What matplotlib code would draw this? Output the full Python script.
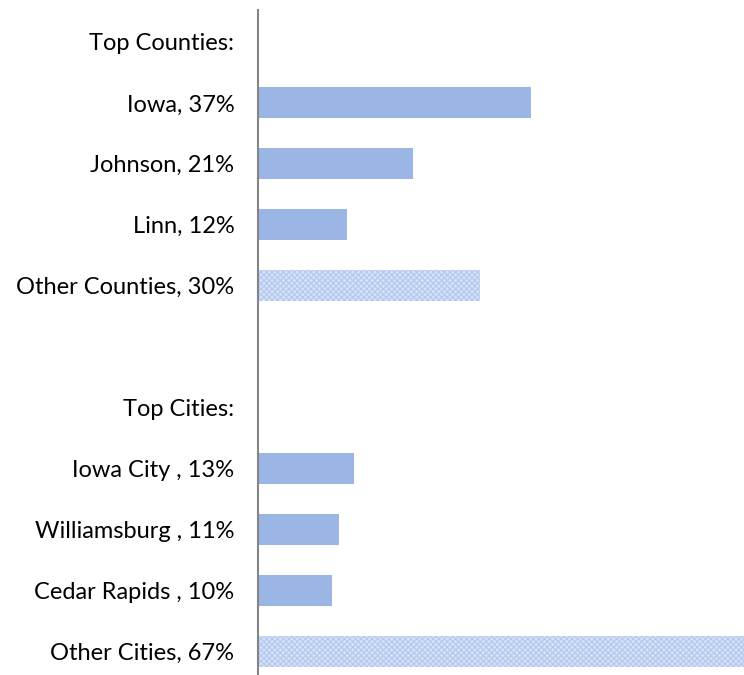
import matplotlib
matplotlib.use("Agg")
import matplotlib.pyplot as plt

# ---- data ----
labels = ["Top Counties:", "Iowa, 37%", "Johnson, 21%", "Linn, 12%",
          "Other Counties, 30%", "", "Top Cities:", "Iowa City , 13%",
          "Williamsburg , 11%", "Cedar Rapids , 10%", "Other Cities, 67%"]
values = [0, 37, 21, 12, 30, 0, 0, 13, 11, 10, 67]
is_other = [False, False, False, False, True, False, False, False, False, False, True]

SOLID = "#9BB5E4"
LIGHT = "#D6E2F7"
HATCH = "#B3C8EE"

plt.rcParams["font.family"] = ["Lato", "DejaVu Sans"]
plt.rcParams["hatch.linewidth"] = 0.8

fig = plt.figure(figsize=(7.44, 6.75), dpi=100)
W, H = 744, 675
ax = fig.add_axes([258 / W, 0, (744 - 258) / W, (675 - 10) / H])

ys = list(range(len(labels)))
for y, v, other in zip(ys, values, is_other):
    if v <= 0:
        continue
    if other:
        ax.barh(y, v, height=0.51, color=LIGHT, edgecolor=HATCH,
                hatch="xxxxxx", linewidth=0)
    else:
        ax.barh(y, v, height=0.51, color=SOLID, linewidth=0)

ax.set_xlim(0, 65.8)
ax.set_ylim(10.39, -0.525)
ax.set_yticks(ys)
ax.set_yticklabels(labels, fontsize=17, color="#000000")
ax.tick_params(axis="y", length=0, pad=17)
ax.set_xticks([])
for side in ["top", "right", "bottom"]:
    ax.spines[side].set_visible(False)
ax.spines["left"].set_color("#858585")
ax.spines["left"].set_linewidth(1.5)

fig.savefig("out.png", dpi=100, facecolor="white")
